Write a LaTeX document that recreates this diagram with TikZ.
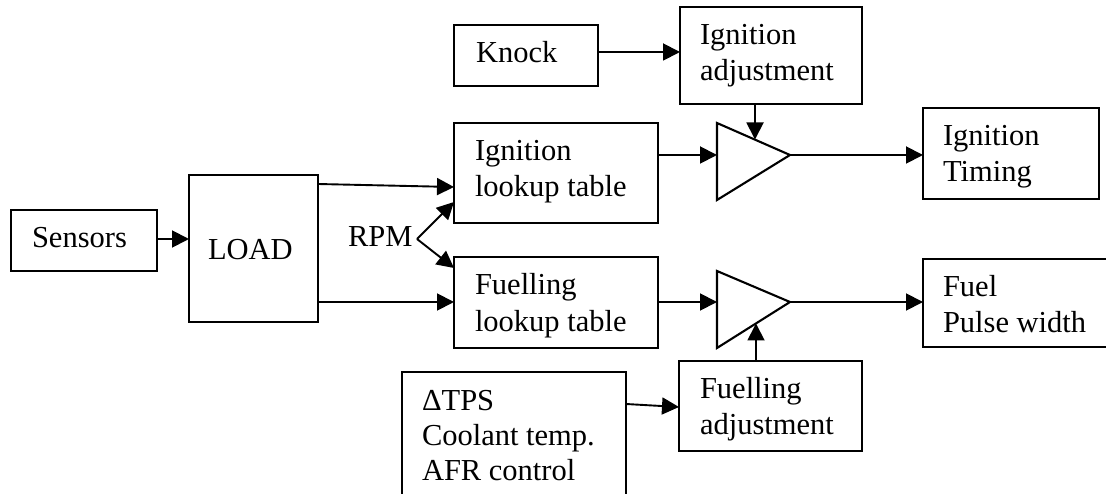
\documentclass[tikz,border=0pt]{standalone}
\usepackage{fontspec}
\setmainfont{Liberation Serif}
\usetikzlibrary{arrows.meta}
\newcommand\mkbox[5]{\node[box, minimum width={#4-#2}, minimum height={#5-#3}] (#1) at ({(#2+#4)/2},{(#3+#5)/2}) {};}
\begin{document}
\begin{tikzpicture}[x=1pt,y=-1pt,
  box/.style={draw, line width=2.1pt, inner sep=0pt, outer sep=0pt},
  amp/.style={draw, line width=2.1pt, line join=miter},
  arr/.style={line width=1.9pt, -{Triangle[length=17pt,width=17pt]}},
  txt/.style={anchor=base west, inner sep=0pt, outer sep=0pt, font=\fontsize{30.5}{36}\selectfont}]
\useasboundingbox (0,0) rectangle (1106,494);
\clip (0,0) rectangle (1106,494);
% boxes
\mkbox{sensors}{11}{210}{157}{271}
\mkbox{load}{189}{175}{318}{322}
\mkbox{knock}{454}{25}{598}{86}
\mkbox{igadj}{680}{7}{862}{104}
\mkbox{iglook}{454}{123}{658}{223}
\mkbox{fuellook}{454}{257}{658}{348}
\mkbox{igtime}{923}{108}{1099}{199}
\mkbox{fuelpw}{923}{259}{1120}{347}
\mkbox{fueladj}{679}{361}{862}{451}
\mkbox{dtps}{402}{372}{626}{510}
% texts
\node[txt] (tsensors) at (32,248) {Sensors};
\node[txt] (tload) at (208,260) {LOAD};
\node[txt] (rpm) at (348,247) {RPM};
\node[txt] (tknock) at (476,63) {Knock};
\node[txt] (tigadj) at (700,45) {\vtop{\hbox{Ignition}\hbox{adjustment}}};
\node[txt] (tiglook) at (475,161) {\vtop{\hbox{Ignition}\hbox{lookup table}}};
\node[txt] (tfuellook) at (475,295) {\vtop{\hbox{Fuelling}\hbox{lookup table}}};
\node[txt] (tigtime) at (943,146) {\vtop{\hbox{Ignition}\hbox{Timing}}};
\node[txt] (tfuelpw) at (943,297) {\vtop{\hbox{Fuel}\hbox{Pulse width}}};
\node[txt] (tfueladj) at (700,398) {\vtop{\hbox{Fuelling}\hbox{adjustment}}};
\node[txt] (tdtps) at (422,410) {\vtop{\baselineskip=35pt\hbox{ΔTPS}\hbox{Coolant temp.}\hbox{AFR control}}};
% amplifiers
\draw[amp] (717,123) -- (790,155) coordinate (igtip) -- (717,200) -- cycle;
\draw[amp] (717,271) -- (790,302) coordinate (futip) -- (717,348) -- cycle;
\coordinate (igin) at (717,155);
\coordinate (fuin) at (717,302);
\coordinate (igtop) at (755,139.5);
\coordinate (futop) at (756,323.5);
\coordinate (rpmv) at (417,239);
% connectors
\draw[arr] (sensors.east |- 0,239) -- (load.west |- 0,239);
\draw[arr] (load.east |- 0,184) -- (iglook.west |- 0,187);
\draw[arr] (load.east |- 0,302) -- (fuellook.west |- 0,302);
\draw[arr] (rpmv) -- (iglook.west |- 0,202);
\draw[arr] (rpmv) -- (fuellook.west |- 0,268);
\draw[arr] (knock.east |- 0,52) -- (igadj.west |- 0,52);
\draw[arr] (igadj.south -| igtop) -- (igtop);
\draw[arr] (iglook.east |- igin) -- (igin);
\draw[arr] (fuellook.east |- fuin) -- (fuin);
\draw[arr] (igtip) -- (igtime.west |- igtip);
\draw[arr] (futip) -- (fuelpw.west |- futip);
\draw[arr] (fueladj.north -| futop) -- (futop);
\draw[arr] (dtps.east |- 0,404) -- (fueladj.west |- 0,407);
\end{tikzpicture}
\end{document}
